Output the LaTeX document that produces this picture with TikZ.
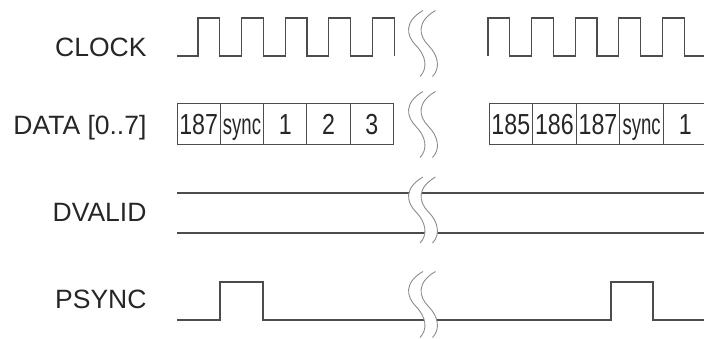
\documentclass[tikz,border=0pt]{standalone}
\usepackage{fontspec}
\usepackage{graphicx}
\setmainfont{Liberation Sans}
\newfontfamily\datafont[FakeStretch=0.8]{Liberation Sans}
\newcommand{\syncword}{\scalebox{0.8}[1]{sync}}
\tikzset{
    wave/.style={black!70, line width=1.3pt, line join=miter},
    cell/.style={draw=black!70, line width=1pt, minimum width=43.3pt, minimum height=41pt,
        inner sep=0pt, text height=20.5pt, text depth=0pt,
        font=\datafont\fontsize{29}{31}\selectfont, text=black!85},
    signame/.style={anchor=base east, font=\fontsize{26.5}{30}\selectfont, text=black!85},
    cutline/.style={black!45, line width=0.9pt},
    brk/.pic={
        \fill[white] (7,-33) .. controls (-12,-22) and (-10,-8) .. (0,2) .. controls (10,12) and (12,25) .. (4,33)
            -- (16.5,33) .. controls (24.5,25) and (22.5,12) .. (12.5,2) .. controls (2.5,-8) and (0.5,-22) .. (19.5,-33) -- cycle;
        \foreach \d in {0,12.5}
            \draw[cutline,xshift=\d] (7,-33) .. controls (-12,-22) and (-10,-8) .. (0,2) .. controls (10,12) and (12,25) .. (4,33);
    }
}

\begin{document}
\begin{tikzpicture}[x=1pt,y=-1pt]
\useasboundingbox (0,0) rectangle (704,339);
% signal names
\node[signame] (clk) at (150,56.5) {CLOCK};
\node[signame] (dat) at (150,135) {DATA [0..7]};
\node[signame] (dv) at (150,221.5) {DVALID};
\node[signame] (ps) at (150,308) {PSYNC};
% clock
\draw[wave] (177,56) -- (198,56) foreach \k in {1,...,4} { -- ++(0,-38) -- ++(21.8,0) -- ++(0,38) -- ++(21.8,0) }
    -- ++(0,-38) -- ++(21.8,0) -- ++(0,38);
\draw[wave] (488,56) foreach \k in {1,...,5} { -- ++(0,-38) -- ++(21.8,0) -- ++(0,38) -- ++(21.8,0) };
% data
\foreach \v [count=\i] in {187,\syncword,1,2,3}
    \node[cell] (dl\i) at ({177+43.3*(\i-0.5)},124.5) {\v};
\foreach \v [count=\i] in {185,186,187,\syncword,1}
    \node[cell, minimum width=43.6pt] (dr\i) at ({489+43.6*(\i-0.5)},124.5) {\v};
% dvalid
\draw[wave] (177,193) -- (704,193);
\draw[wave] (177,233) -- (704,233);
% psync
\draw[wave] (177,320) -- (220,320) -- (220,282) -- (263,282) -- (263,320) -- (611,320) -- (611,282) -- (653,282) -- (653,320) -- (704,320);
% breaks
\foreach \y in {43.5,124.5,210,304.5}
    \pic at (416,\y) {brk};
\end{tikzpicture}
\end{document}
